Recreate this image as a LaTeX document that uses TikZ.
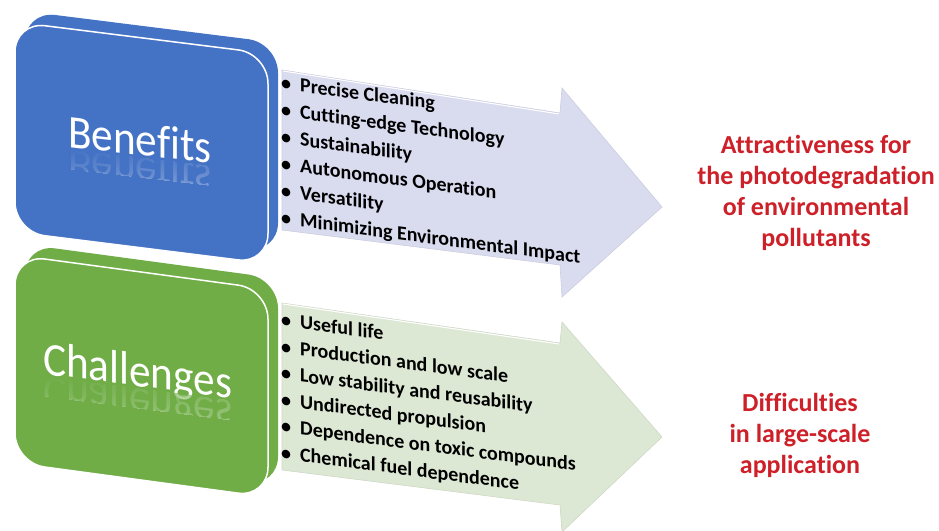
\documentclass[tikz,border=0pt]{standalone}
\usepackage{fontspec}
\setmainfont{Carlito}[Ligatures=NoCommon]
\usetikzlibrary{calc,fadings}
\definecolor{BenefitClr}{RGB}{68,114,196}
\definecolor{ChallengeClr}{RGB}{112,173,71}
\definecolor{BenefitArrowClr}{RGB}{217,219,239}
\definecolor{ChallengeArrowClr}{RGB}{221,232,212}
\definecolor{ResultClr}{RGB}{206,32,40}

\begin{document}
\begin{tikzpicture}[x=1pt,y=-1pt,
  listitem/.style={anchor=base west,inner sep=0pt,transform shape,
    font=\bfseries\fontsize{20}{24}\selectfont},
  boxtitle/.style={anchor=base west,inner sep=0pt,transform shape,text=white,
    font=\fontsize{47}{52}\selectfont},
  result/.style={align=center,text=ResultClr,
    font=\bfseries\fontsize{26}{31}\selectfont}]
\useasboundingbox (0,0) rectangle (939,530);

% Draw the two arrows.
\draw[fill=BenefitArrowClr,draw=BenefitArrowClr!85!gray,line width=.6pt]
  (282,70) -- (560,113) -- (562,88) -- (662,207) -- (562,297) -- (560,265) -- (282,230) -- cycle;
\draw[white,line width=1pt] (283,71) -- (559,114);
\draw[fill=ChallengeArrowClr,draw=ChallengeArrowClr!85!gray,line width=.6pt]
  (282,303) -- (560,343) -- (562,322) -- (662,437) -- (562,532) -- (560,505) -- (282,470) -- cycle;
\draw[white,line width=1pt] (283,304) -- (559,344);

% Draw the slabs.
\begin{scope}[shift={(15,22)},yslant=-0.125]
  \fill[BenefitClr,rounded corners=30pt] (10,-12) -- (263,-12) -- (263,198) -- (10,198) -- cycle;
  \draw[fill=BenefitClr,draw=white,line width=1.5pt,rounded corners=30pt]
    (0,0) -- (253,0) -- (253,210) -- (0,210) -- cycle;
\end{scope}
\begin{scope}[shift={(15,255)},yslant=-0.135]
  \fill[ChallengeClr,rounded corners=30pt] (10,-12) -- (263,-12) -- (263,196) -- (10,196) -- cycle;
  \draw[fill=ChallengeClr,draw=white,line width=1.5pt,rounded corners=30pt]
    (0,0) -- (253,0) -- (253,208) -- (0,208) -- cycle;
\end{scope}

% Titles with their reflections.
\begin{scope}[shift={(68,147)},yslant=-0.115]
  \node[boxtitle,xscale=.92] (benefits) at (0,0) {Benefits};
  \begin{scope}
    \clip (-5,2) rectangle (160,22);
    \node[boxtitle,xscale=.92,yscale=-1,opacity=.3] (benefitsrefl) at (0,2) {Benefits};
  \end{scope}
  \fill[BenefitClr,path fading=south] (-5,2) rectangle (160,22);
\end{scope}
\begin{scope}[shift={(43,374)},yslant=-0.128]
  \node[boxtitle,xscale=.92] (challenges) at (0,0) {Challenges};
  \begin{scope}
    \clip (-5,2) rectangle (205,22);
    \node[boxtitle,xscale=.92,yscale=-1,opacity=.3] (challengesrefl) at (0,2) {Challenges};
  \end{scope}
  \fill[ChallengeClr,path fading=south] (-5,2) rectangle (205,22);
\end{scope}

% Bullet lists on the arrows.
\begin{scope}[shift={(285,83)},yslant=-0.13]
  \foreach \txt [count=\i from 0] in {Precise Cleaning,Cutting-edge Technology,Sustainability,
      Autonomous Operation,Versatility,Minimizing Environmental Impact}
    \node[listitem] (benefit\i) at (-4,27*\i+7) {\textbullet\hspace{9pt}\txt};
\end{scope}
\begin{scope}[shift={(285,320)},yslant=-0.13]
  \foreach \txt [count=\i from 0] in {Useful life,Production and low scale,Low stability and reusability,
      Undirected propulsion,Dependence on toxic compounds,Chemical fuel dependence}
    \node[listitem] (challenge\i) at (-4,26.5*\i+7) {\textbullet\hspace{9pt}\txt};
\end{scope}

% Outcomes.
\node[result] (attract) at (816,193) {Attractiveness for\\the photodegradation\\of environmental\\pollutants};
\node[result] (difficult) at (800,435) {Difficulties\\in large-scale\\application};

\end{tikzpicture}
\end{document}
